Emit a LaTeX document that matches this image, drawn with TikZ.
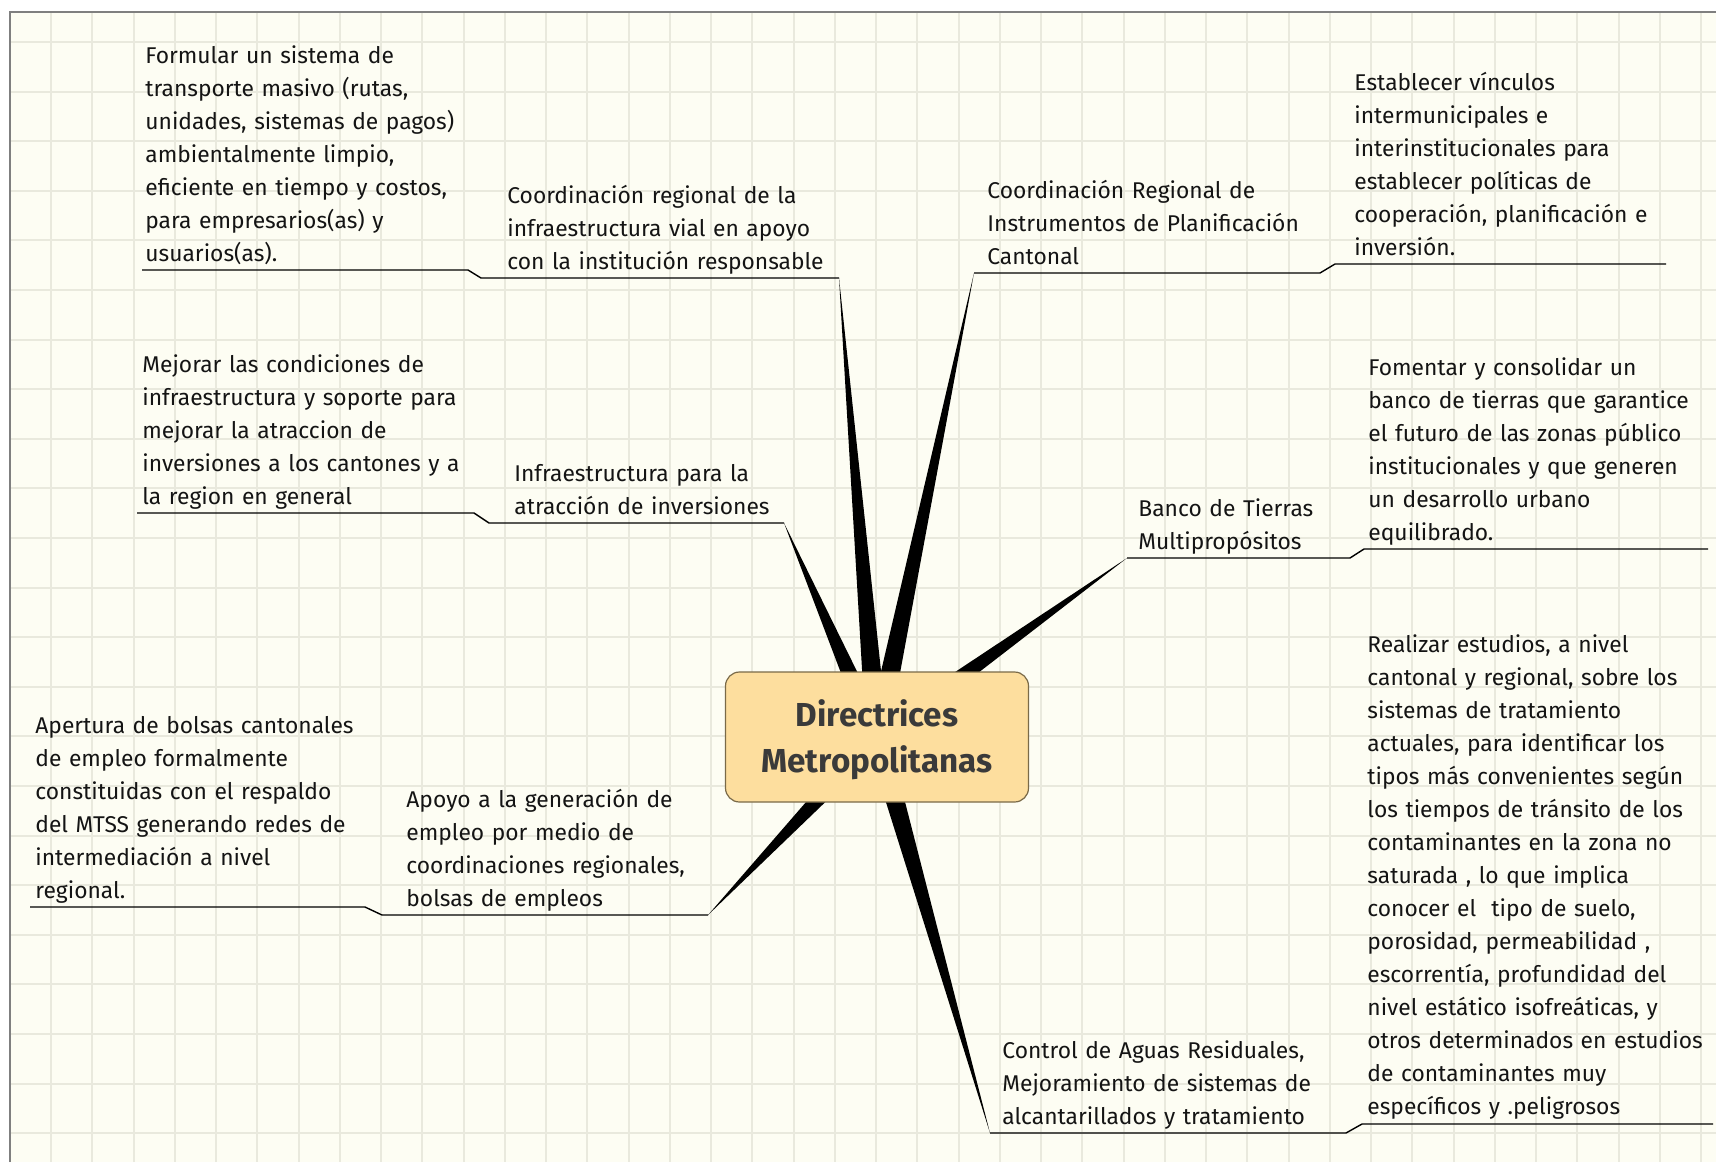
\documentclass[tikz,border=0pt]{standalone}
\usepackage{fontspec}
\setmainfont{Fira Sans}
\usetikzlibrary{calc}
\usetikzlibrary{positioning}
\definecolor{PaperColor}{HTML}{FDFDF3}
\definecolor{GridColor}{HTML}{E9E9DD}
\definecolor{FrameColor}{HTML}{7F7F7F}
\definecolor{CentreFill}{HTML}{FDDE9E}
\definecolor{CentreDraw}{HTML}{7A6A48}
\definecolor{CentreText}{HTML}{3A3A3A}
\newcommand{\BranchWedge}[3]{
	\fill[black] (#2) -- ($(#1.center)!#3!90:(#2)$) -- ($(#1.center)!#3!-90:(#2)$) -- cycle;
}

\begin{document}
\begin{tikzpicture}[x=0.5pt, y=-0.5pt,
	topic/.style={anchor=base west, inner sep=0pt, text width=9cm, align=left,
		font=\fontsize{11.4}{16.5}\selectfont, text=black!92},
	centrebox/.style={draw=CentreDraw, fill=CentreFill, line width=0.6pt,
		rounded corners=7pt, minimum width=151.5pt, minimum height=65pt},
	centretext/.style={align=center, inner sep=0pt,
		font=\fontsize{16.6}{23}\selectfont\bfseries, text=CentreText},
	underline/.style={black, line width=0.7pt},
	gridline/.style={GridColor, line width=1pt}]
	\def\WedgeHalf{5.5pt}
	%%%%%%%%%%%%%%%%%%%%%%%%%%%%%%%%%%%%%%%%%%%%%%%%%%%%%%%%%%
	\useasboundingbox (0,0) rectangle (1716,1162);
	\fill[white] (0,0) rectangle (1716,1162);
	\fill[PaperColor] (10,12) rectangle (1716,1162);
	% squared paper
	\foreach \gx in {0,...,40}
		\draw[gridline] ({51+41.25*\gx},12) -- ({51+41.25*\gx},1162);
	\foreach \gy in {0,...,22}
		\draw[gridline] (10,{42+49.6*\gy}) -- (1716,{42+49.6*\gy});
	\draw[FrameColor, line width=0.8pt] (10,1162) -- (10,12) -- (1716,12);
	%%%%%%%%%%%%%%%%%%%%%%%%%%%%%%%%%%%%%%%%%%%%%%%%%%%%%%%%%%
	\coordinate (dmpos) at (877,737);
	\coordinate (tA) at (839,278);
	\coordinate (tB) at (974,273);
	\coordinate (tC) at (784,523);
	\coordinate (tD) at (1127,558);
	\coordinate (tE) at (708,915);
	\coordinate (tF) at (990,1133);
	
	% branches
	\BranchWedge{dmpos}{tA}{\WedgeHalf}
	\BranchWedge{dmpos}{tB}{\WedgeHalf}
	\BranchWedge{dmpos}{tC}{\WedgeHalf}
	\BranchWedge{dmpos}{tD}{\WedgeHalf}
	\BranchWedge{dmpos}{tE}{\WedgeHalf}
	\BranchWedge{dmpos}{tF}{\WedgeHalf}
	
	% central topic
	\node[centrebox] (dm) at (dmpos) {};
	\node[centretext] (dmtext) at ([yshift=-1.5pt]dm.center) {Directrices\\Metropolitanas};
	
	% underlines with their steps
	\draw[underline] (tA) -- (481,278) -- (468,270) -- (142,270);
	\draw[underline] (tB) -- (1320,273) -- (1335,264) -- (1666,264);
	\draw[underline] (tC) -- (489,523) -- (474,513) -- (137,513);
	\draw[underline] (tD) -- (1350,558) -- (1364,549) -- (1708,549);
	\draw[underline] (tE) -- (382,915) -- (365,907) -- (30,907);
	\draw[underline] (tF) -- (1346,1133) -- (1362,1124) -- (1713,1124);
	
	% main topics
	\node[topic] (vial) at (507,203) {Coordinación regional de la\\ infraestructura vial en apoyo\\ con la institución responsable};
	\node[topic] (plan) at (987,198) {Coordinación Regional de\\ Instrumentos de Planificación\\ Cantonal};
	\node[topic] (inver) at (514,481) {Infraestructura para la\\ atracción de inversiones};
	\node[topic] (banco) at (1138,516) {Banco de Tierras\\ Multipropósitos};
	\node[topic] (empleo) at (406,807) {Apoyo a la generación de\\ empleo por medio de\\ coordinaciones regionales,\\ bolsas de empleos};
	\node[topic] (aguas) at (1002,1058) {Control de Aguas Residuales,\\ Mejoramiento de sistemas de\\ alcantarillados y tratamiento};
	
	% sub topics
	\node[topic] (vialsub) at (145,63) {Formular un sistema de\\ transporte masivo (rutas,\\ unidades, sistemas de pagos)\\ ambientalmente limpio,\\ eficiente en tiempo y costos,\\ para empresarios(as) y\\ usuarios(as).};
	\node[topic] (plansub) at (1354,90) {Establecer vínculos\\ intermunicipales e\\ interinstitucionales para\\ establecer políticas de\\ cooperación, planificación e\\ inversión.};
	\node[topic] (inversub) at (142,372) {Mejorar las condiciones de\\ infraestructura y soporte para\\ mejorar la atraccion de\\ inversiones a los cantones y a\\ la region en general};
	\node[topic] (bancosub) at (1368,375) {Fomentar y consolidar un\\ banco de tierras que garantice\\ el futuro de las zonas público\\ institucionales y que generen\\ un desarrollo urbano\\ equilibrado.};
	\node[topic] (empleosub) at (35,733) {Apertura de bolsas cantonales\\ de empleo formalmente\\ constituidas con el respaldo\\ del MTSS generando redes de\\ intermediación a nivel\\ regional.};
	\node[topic] (aguassub) at (1367,652.5) {Realizar estudios, a nivel\\ cantonal y regional, sobre los\\ sistemas de tratamiento\\ actuales, para identificar los\\ tipos más convenientes según\\ los tiempos de tránsito de los\\ contaminantes en la zona no\\ saturada , lo que implica\\ conocer el\ \ tipo de suelo,\\ porosidad, permeabilidad ,\\ escorrentía, profundidad del\\ nivel estático isofreáticas, y\\ otros determinados en estudios\\ de contaminantes muy\\ específicos y .peligrosos};
	
\end{tikzpicture}
\end{document}
